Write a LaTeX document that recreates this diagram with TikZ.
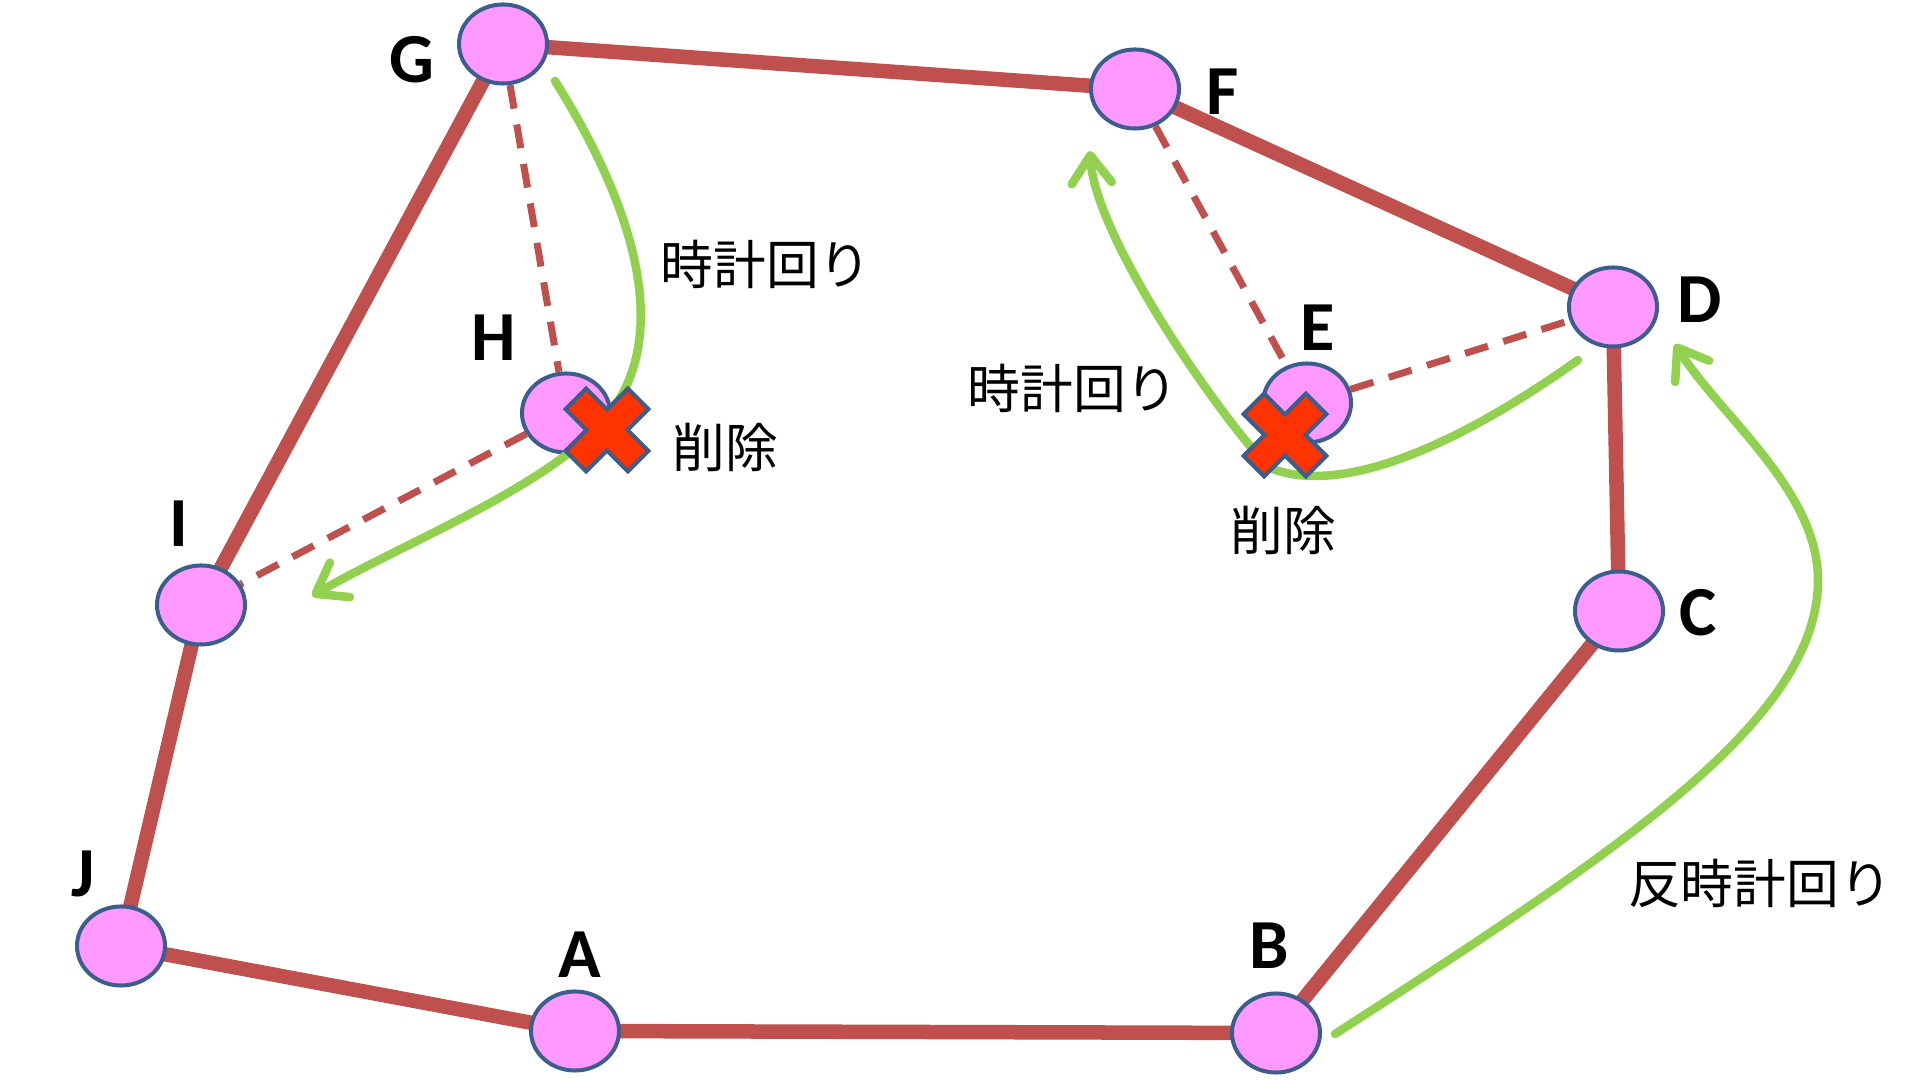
\documentclass[tikz,border=0pt]{standalone}
\usepackage{fontspec}
\newfontfamily\lblfont{Carlito}
\newfontfamily\jpfont{Noto Sans CJK JP}
\usetikzlibrary{arrows.meta,backgrounds,shapes.geometric}
\definecolor{edgered}{HTML}{C0504D}
\definecolor{nodefill}{HTML}{FF99FF}
\definecolor{nodeline}{HTML}{3B5E8C}
\definecolor{arrowgreen}{HTML}{92D050}
\definecolor{xfill}{HTML}{FF3300}
\begin{document}
\begin{tikzpicture}[x=0.01cm,y=-0.01cm,
  vertex/.style={ellipse, draw=nodeline, line width=0.04cm, fill=nodefill,
    minimum width=0.88cm, minimum height=0.79cm, inner sep=0pt},
  letter/.style={font=\lblfont\bfseries\fontsize{20pt}{24pt}\selectfont, inner sep=0pt, text=black},
  jptext/.style={font=\jpfont\fontsize{15pt}{18pt}\selectfont, inner sep=0pt, text=black},
  route/.style={line width=0.145cm, draw=edgered, line join=round},
  removed/.style={line width=0.07cm, draw=edgered, dash pattern=on 0.24cm off 0.16cm},
  turn/.style={line width=0.085cm, draw=arrowgreen, line cap=round},
  turnarrow/.style={turn, -{Straight Barb[length=0.28cm,width=0.4cm,round]}},
  xmark/.pic={\filldraw[fill=xfill, draw=nodeline, line width=0.04cm, line join=miter, rotate=45]
    (-44,-14.5) -- (-14.5,-14.5) -- (-14.5,-44) -- (14.5,-44) -- (14.5,-14.5) -- (44,-14.5) -- (44,14.5)
    -- (14.5,14.5) -- (14.5,44) -- (-14.5,44) -- (-14.5,14.5) -- (-44,14.5) -- cycle;}
]
\useasboundingbox (0,0) rectangle (1920,1080);

% vertices
\node[vertex] (A) at (575,1031) {};
\node[vertex] (B) at (1276,1033) {};
\node[vertex] (C) at (1619,611) {};
\node[vertex] (D) at (1613,307) {};
\node[vertex] (E) at (1307,403) {};
\node[vertex] (F) at (1135,89) {};
\node[vertex] (G) at (503,44) {};
\node[vertex] (H) at (566,413) {};
\node[vertex] (I) at (201,605) {};
\node[vertex] (J) at (121,946) {};

% letters
\node[letter] (lA) at (580,955) {A};
\node[letter] (lB) at (1269,946) {B};
\node[letter] (lC) at (1698,613) {C};
\node[letter] (lD) at (1700,300) {D};
\node[letter] (lE) at (1318,328) {E};
\node[letter] (lF) at (1223,92) {F};
\node[letter] (lG) at (412,60) {G};
\node[letter] (lH) at (494,338) {H};
\node[letter] (lI) at (179,524) {I};
\node[letter] (lJ) at (83,874) {J};

% tour edges
\begin{scope}[on background layer]
\fill[white] (0,0) rectangle (1920,1080);
\draw[route] (A.center) -- (B.center) -- (C.center) -- (D.center) -- (F.center)
  -- (G.center) -- (I.center) -- (J.center) -- cycle;
\end{scope}

% removed edges
\draw[removed] (G) -- (H);
\draw[removed] (H) -- (I);
\draw[removed] (F) -- (E);
\draw[removed] (E) -- (D);

% rotation arrows
\coordinate (g1s) at (555,81);
\coordinate (g1e) at (312,596);
\coordinate (g2s) at (1578,360);
\coordinate (g2e) at (1090,151);
\coordinate (g3s) at (1335,1034);
\coordinate (g3e) at (1675,344);
\draw[turnarrow] (g1s) .. controls (630,200) and (680,340) .. (600,425)
  .. controls (540,490) and (400,545) .. (g1e);
\draw[turnarrow] (g2s) .. controls (1480,430) and (1350,500) .. (1270,468)
  .. controls (1230,430) and (1095,241) .. (g2e);
\draw[turnarrow] (g3s) .. controls (1620,850) and (1818,720) .. (1818,580)
  .. controls (1818,490) and (1720,416) .. (g3e);

% texts
\node[jptext] (t1) at (766,264) {時計回り};
\node[jptext] (t2) at (725,447) {削除};
\node[jptext] (t3) at (1073,388) {時計回り};
\node[jptext] (t4) at (1283,530) {削除};
\node[jptext] (t5) at (1760,883) {反時計回り};

% deletion marks
\pic at (607,430) {xmark};
\pic at (1285,435) {xmark};
\end{tikzpicture}
\end{document}
